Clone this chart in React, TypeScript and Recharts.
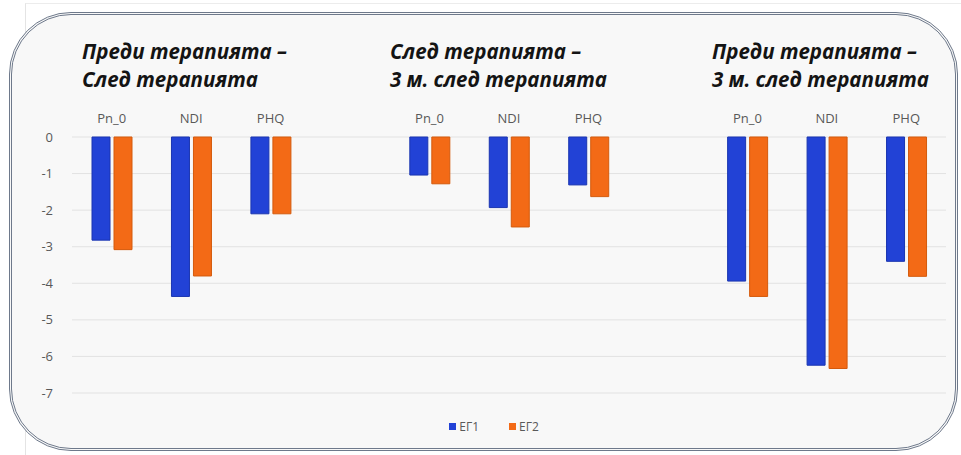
import { Bar, BarChart, CartesianGrid, Legend, XAxis, YAxis } from "recharts"

// 11 slots: three groups of three measures, with an empty slot between groups
const categories = ["Pn_0", "NDI", "PHQ", "", "Pn_0", "NDI", "PHQ", "", "Pn_0", "NDI", "PHQ"]
const eg1 = [-2.82, -4.36, -2.1, null, -1.04, -1.93, -1.31, null, -3.94, -6.24, -3.4]
const eg2 = [-3.08, -3.8, -2.1, null, -1.28, -2.46, -1.63, null, -4.36, -6.33, -3.81]
const seriesNames = ["ЕГ1", "ЕГ2"]
const yTicks = [0, -1, -2, -3, -4, -5, -6, -7]
const groupTitles = [
  ["Преди терапията –", "След терапията"],
  ["След терапията –", "3 м. след терапията"],
  ["Преди терапията –", "3 м. след терапията"],
]

const data = categories.map((cat, i) => ({ cat, eg1: eg1[i], eg2: eg2[i] }))

const BLUE = "#2242d6"
const ORANGE = "#f36a16"
const FONT = "'Open Sans', 'Noto Sans', sans-serif"

function LegendContent({ payload }: any) {
  return (
    <div style={{ display: "flex", justifyContent: "center", gap: 30, fontFamily: FONT, fontSize: 12, color: "#595959" }}>
      {(payload || []).map((p: any) => (
        <div key={p.value} style={{ display: "flex", alignItems: "center", gap: 3 }}>
          <span style={{ width: 7, height: 7, background: p.color, display: "inline-block" }} />
          <span>{p.value}</span>
        </div>
      ))}
    </div>
  )
}

const titleLeft = [82, 390, 712]

export default function App() {
  return (
    <div style={{ position: "absolute", left: 0, top: 0, width: 961, height: 455, background: "#fff", overflow: "hidden" }}>
      <div style={{ position: "absolute", left: 25, top: 3, right: 0, bottom: 0, borderLeft: "1px solid #e4e4e4", borderTop: "1px solid #ececec" }} />
      <div
        style={{
          position: "absolute",
          left: 9,
          top: 12,
          width: 949,
          height: 439,
          boxSizing: "border-box",
          border: "3px double #6e798b",
          borderRadius: 62,
          background: "#f8f8f8",
        }}
      />
      {groupTitles.map((lines, i) => (
        <div
          key={i}
          style={{
            position: "absolute",
            left: titleLeft[i],
            top: 37,
            fontFamily: FONT,
            fontWeight: 700,
            fontStyle: "italic",
            fontSize: 20.5,
            lineHeight: "28px",
            color: "#141414",
            whiteSpace: "nowrap",
          }}
        >
          {lines.map((l, j) => (
            <div key={j}>{l}</div>
          ))}
        </div>
      ))}
      <div style={{ position: "absolute", left: 0, top: 0 }}>
        <BarChart
          width={961}
          height={455}
          data={data}
          margin={{ top: 107, right: 15, left: 42, bottom: 42 }}
          barSize={18}
          barGap={4}
        >
          <CartesianGrid vertical={false} stroke="#e2e2e2" />
          <XAxis
            dataKey="cat"
            orientation="top"
            height={30}
            axisLine={false}
            tickLine={false}
            tickSize={0}
            tickMargin={14}
            interval={0}
            tick={{ fontSize: 13, fill: "#595959", fontFamily: FONT }}
          />
          <YAxis
            domain={[-7, 0]}
            ticks={yTicks}
            width={30}
            axisLine={false}
            tickLine={false}
            tickSize={0}
            tickMargin={19}
            tick={{ fontSize: 13, fill: "#595959", fontFamily: FONT }}
          />
          <Legend height={20} wrapperStyle={{ top: 418, height: 20 }} content={<LegendContent />} />
          <Bar dataKey="eg1" name={seriesNames[0]} fill={BLUE} stroke="#1a35b0" strokeWidth={1} isAnimationActive={false} />
          <Bar dataKey="eg2" name={seriesNames[1]} fill={ORANGE} stroke="#d45a0c" strokeWidth={1} isAnimationActive={false} />
        </BarChart>
      </div>
    </div>
  )
}
